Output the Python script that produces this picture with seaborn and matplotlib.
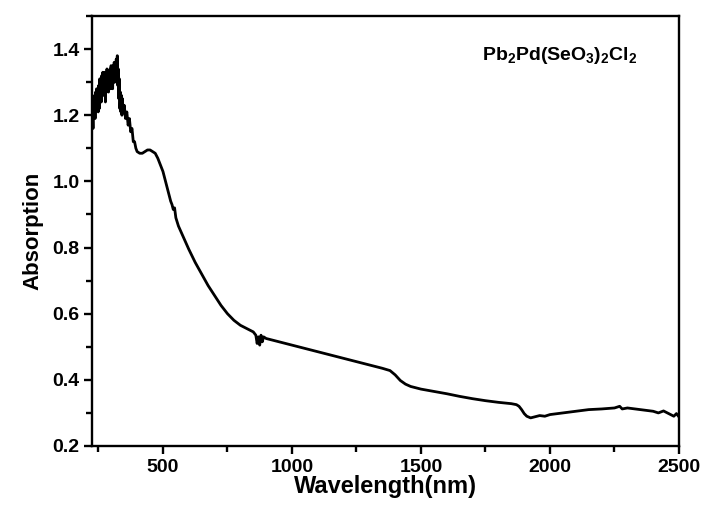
import matplotlib
matplotlib.use("Agg")
import matplotlib.pyplot as plt
import seaborn as sns
import pandas as pd
from matplotlib.ticker import MultipleLocator

wavelength = [225, 227, 229, 231, 233, 235, 237, 239, 241, 243, 245, 247, 249, 251, 253, 255, 257, 259,
              261, 263, 265, 267, 269, 271, 273, 275, 277, 279, 281, 283, 285, 287, 289, 291, 293, 295,
              297, 299, 301, 303, 305, 307, 309, 311, 313, 315, 317, 319, 321, 323, 325, 327, 329, 331,
              333, 335, 337, 339, 341, 343, 345, 350, 355, 360, 365, 370,
              375, 380, 385, 390, 395, 400, 410, 420, 430, 440, 450, 460, 470, 480, 490, 500, 510, 520,
              530, 535, 540, 545, 550, 560, 580, 600, 625, 650, 675, 700, 725, 750, 775, 800, 825, 850,
              860, 865, 870, 875, 880, 885, 890, 900, 925, 950, 1000, 1050, 1100, 1150, 1200, 1250, 1300,
              1350, 1380, 1400, 1420, 1440, 1460, 1500, 1550, 1600, 1650, 1700, 1750, 1800, 1850, 1870,
              1880, 1890, 1900, 1910, 1925, 1940, 1960, 1980, 2000, 2050, 2100, 2150, 2200, 2250, 2270,
              2280, 2300, 2350, 2400, 2420, 2440, 2460, 2480, 2490, 2500]
absorption = [1.20, 1.22, 1.16, 1.25, 1.21, 1.26, 1.19, 1.27, 1.22, 1.28, 1.23, 1.25, 1.21, 1.29, 1.22, 1.31,
              1.26, 1.30, 1.24, 1.32, 1.27, 1.33, 1.26, 1.31, 1.28, 1.33, 1.24, 1.32, 1.27, 1.34, 1.28, 1.32,
              1.27, 1.33, 1.29, 1.34, 1.28, 1.35, 1.29, 1.33, 1.28, 1.35, 1.30, 1.36, 1.30, 1.35, 1.31, 1.37,
              1.30, 1.38, 1.29, 1.34, 1.25, 1.31, 1.22, 1.27, 1.21, 1.26, 1.20, 1.25, 1.21, 1.23,
              1.19, 1.21, 1.17, 1.19, 1.15, 1.16, 1.12, 1.12, 1.10, 1.09, 1.085, 1.085, 1.09, 1.095, 1.095,
              1.09, 1.085, 1.07, 1.05, 1.03, 1.00, 0.97, 0.94, 0.93, 0.915, 0.92, 0.89, 0.865, 0.83, 0.795,
              0.755, 0.72, 0.685, 0.655, 0.625, 0.60, 0.58, 0.565, 0.555, 0.545, 0.535, 0.51, 0.53, 0.505,
              0.535, 0.515, 0.53, 0.525, 0.52, 0.515, 0.505, 0.495, 0.485, 0.475, 0.465, 0.455, 0.445, 0.435,
              0.428, 0.415, 0.398, 0.387, 0.38, 0.372, 0.365, 0.358, 0.35, 0.343, 0.337, 0.332, 0.328, 0.325,
              0.32, 0.31, 0.298, 0.29, 0.285, 0.288, 0.292, 0.29, 0.295, 0.30, 0.305, 0.31, 0.312, 0.315, 0.32,
              0.312, 0.315, 0.31, 0.305, 0.30, 0.306, 0.298, 0.29, 0.298, 0.288]

x_ticks = [500, 1000, 1500, 2000, 2500]
y_ticks = [0.2, 0.4, 0.6, 0.8, 1.0, 1.2, 1.4]

sns.set_style("ticks")
plt.rcParams['font.family'] = ['Liberation Sans', 'DejaVu Sans']
plt.rcParams['font.weight'] = 'bold'
plt.rcParams['text.color'] = 'black'
plt.rcParams['axes.labelcolor'] = 'black'
plt.rcParams['xtick.color'] = 'black'
plt.rcParams['ytick.color'] = 'black'
plt.rcParams['mathtext.fontset'] = 'custom'
plt.rcParams['mathtext.rm'] = 'Liberation Sans:bold'
plt.rcParams['mathtext.bf'] = 'Liberation Sans:bold'
plt.rcParams['mathtext.it'] = 'Liberation Sans:bold'

df = pd.DataFrame({"Wavelength": wavelength, "Absorption": absorption})

fig = plt.figure(figsize=(7.06, 5.12), dpi=100)
ax = fig.add_axes([92 / 706, 1 - 446 / 512, 587 / 706, 430 / 512])
sns.lineplot(data=df, x="Wavelength", y="Absorption", ax=ax, color="black", linewidth=2.0)

ax.set_xlim(225, 2500)
ax.set_ylim(0.2, 1.5)
ax.set_xticks(x_ticks)
ax.set_yticks(y_ticks)
ax.set_xticklabels([str(t) for t in x_ticks])
ax.set_yticklabels([f"{t:.1f}" for t in y_ticks])
ax.xaxis.set_minor_locator(MultipleLocator(250))
ax.yaxis.set_minor_locator(MultipleLocator(0.1))

for s in ax.spines.values():
    s.set_linewidth(1.7)
    s.set_color("black")

ax.tick_params(axis='both', which='major', direction='out', length=6, width=1.7,
               labelsize=14, pad=3, top=False, right=False)
ax.tick_params(axis='both', which='minor', direction='out', length=4, width=1.7,
               top=False, right=False)
for lab in ax.get_xticklabels() + ax.get_yticklabels():
    lab.set_fontweight('bold')

ax.set_xlabel("Wavelength(nm)", fontsize=17, fontweight='bold', labelpad=0)
ax.set_ylabel("Absorption", fontsize=16, fontweight='bold', labelpad=6)

ax.text(0.664, 0.907, r"$\mathbf{Pb_2Pd(SeO_3)_2Cl_2}$", transform=ax.transAxes,
        fontsize=14, ha='left', va='center')

fig.savefig("out.png", dpi=100)
